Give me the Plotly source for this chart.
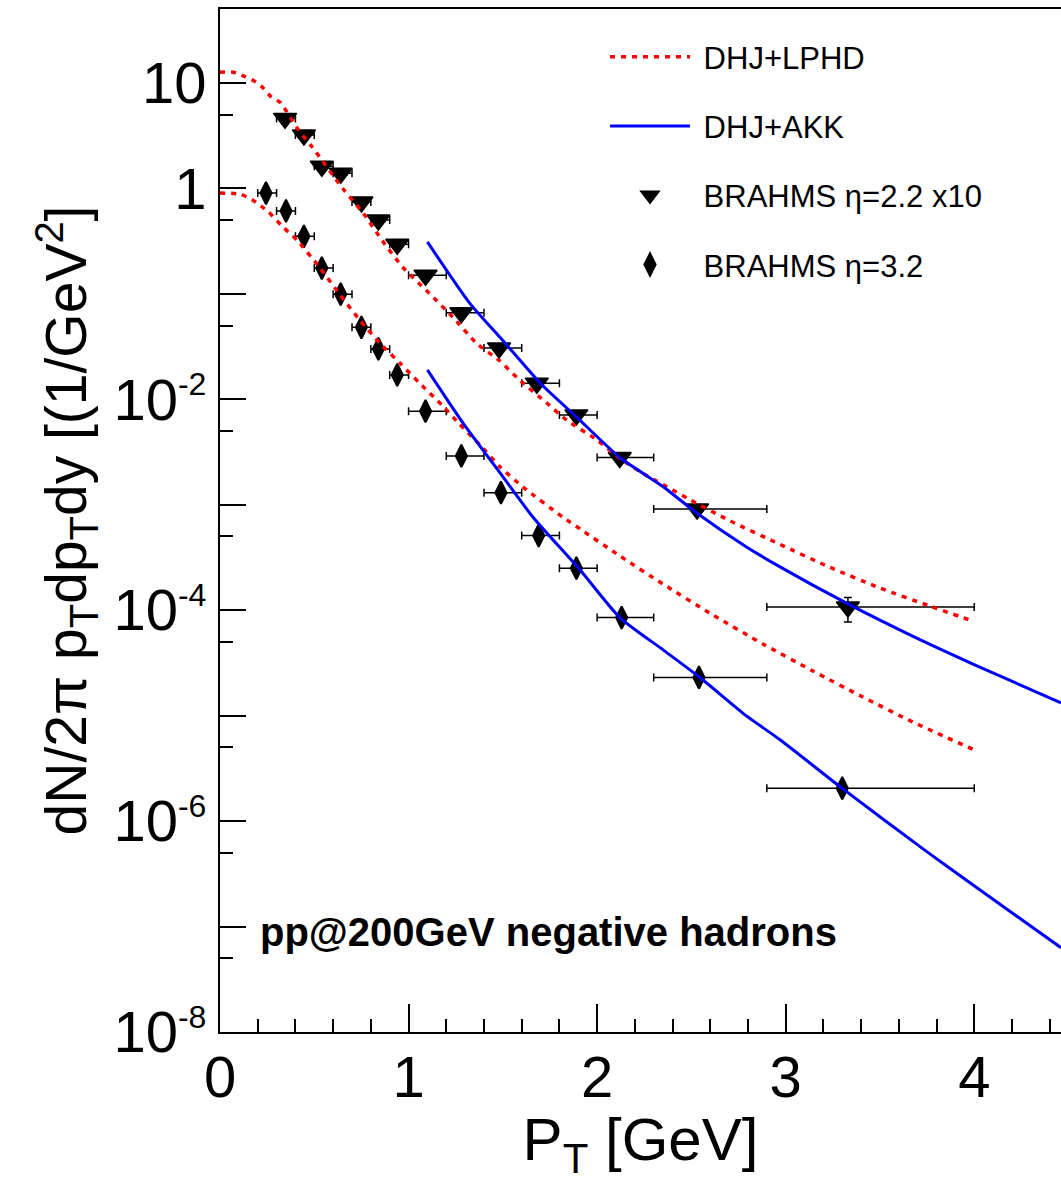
import plotly.graph_objects as go

# ---------------- data ----------------
# BRAHMS eta=2.2 (x10)
pt_eta22 = [0.345, 0.445, 0.54, 0.64, 0.75, 0.84, 0.94, 1.09, 1.28, 1.48, 1.68, 1.89, 2.12, 2.53, 3.33]
y_eta22 = [4.6, 3.2, 1.62, 1.39, 0.74, 0.50, 0.295, 0.15, 0.066, 0.0306, 0.0142, 0.0071, 0.0028, 9.1e-4, 1.07e-4]
lo_eta22 = [0.30, 0.40, 0.50, 0.60, 0.70, 0.80, 0.90, 1.0, 1.2, 1.4, 1.6, 1.8, 2.0, 2.3, 2.9]
hi_eta22 = [0.40, 0.50, 0.60, 0.70, 0.80, 0.90, 1.0, 1.2, 1.4, 1.6, 1.8, 2.0, 2.3, 2.9, 4.0]
ey_up_eta22 = [0, 0, 0, 0, 0, 0, 0, 0, 0, 0, 0, 0, 0, 0, 2.5e-5]
ey_dn_eta22 = [0, 0, 0, 0, 0, 0, 0, 0, 0, 0, 0, 0, 0, 0, 3.0e-5]

# BRAHMS eta=3.2
pt_eta32 = [0.244, 0.35, 0.445, 0.54, 0.64, 0.75, 0.84, 0.94, 1.09, 1.28, 1.49, 1.69, 1.89, 2.13, 2.54, 3.30]
y_eta32 = [0.90, 0.61, 0.35, 0.175, 0.099, 0.048, 0.030, 0.017, 0.0077, 0.0029, 0.0013, 5.1e-4, 2.5e-4, 8.5e-5, 2.3e-5, 2.05e-6]
lo_eta32 = [0.20, 0.30, 0.40, 0.50, 0.60, 0.70, 0.80, 0.90, 1.0, 1.2, 1.4, 1.6, 1.8, 2.0, 2.3, 2.9]
hi_eta32 = [0.30, 0.40, 0.50, 0.60, 0.70, 0.80, 0.90, 1.0, 1.2, 1.4, 1.6, 1.8, 2.0, 2.3, 2.9, 4.0]

# DHJ+LPHD curves
lphd_up_x = [0, 0.07, 0.13, 0.19, 0.23, 0.27, 0.32, 0.41, 0.49, 0.65, 0.76, 0.86, 0.97, 1.10, 1.235, 1.36,
             1.48, 1.59, 1.73, 1.84, 2.00, 2.12, 2.26, 2.40, 2.49, 2.70, 2.97, 3.23, 3.50, 3.76, 4.00]
lphd_up_y = [12.6, 12.6, 11.5, 10.2, 8.9, 7.4, 6.5, 3.7, 2.45, 1.0, 0.58, 0.32, 0.178, 0.105, 0.060, 0.034,
             0.0234, 0.0151, 0.0093, 0.0063, 0.0041, 0.00275, 0.0019, 0.00138, 0.00112, 7.1e-4, 4.2e-4,
             2.57e-4, 1.62e-4, 1.10e-4, 7.8e-5]
lphd_lo_x = [0, 0.106, 0.17, 0.255, 0.334, 0.41, 0.53, 0.636, 0.742, 0.848, 0.954, 1.06, 1.18, 1.27, 1.38,
             1.485, 1.607, 1.819, 1.909, 2.121, 2.349, 2.614, 2.879, 3.144, 3.409, 3.674, 4.003]
lphd_lo_y = [0.90, 0.88, 0.78, 0.60, 0.43, 0.32, 0.176, 0.098, 0.056, 0.034, 0.022, 0.0141, 0.0087, 0.0058,
             0.00367, 0.00228, 0.00147, 7.6e-4, 5.9e-4, 3.26e-4, 1.77e-4, 9.0e-5, 4.78e-5, 2.65e-5, 1.50e-5,
             8.7e-6, 4.7e-6]

# DHJ+AKK curves
akk_up_x = [1.10, 1.325, 1.50, 1.70, 1.89, 2.12, 2.35, 2.53, 2.79, 2.97, 3.32, 3.67, 3.99, 4.46]
akk_up_y = [0.31, 0.081, 0.036, 0.0141, 0.0068, 0.0028, 0.00148, 8.3e-4, 4.0e-4, 2.57e-4, 1.17e-4,
            5.7e-5, 3.1e-5, 1.32e-5]
akk_lo_x = [1.10, 1.29, 1.485, 1.66, 1.91, 2.12, 2.35, 2.545, 2.79, 2.97, 3.30, 3.75, 3.99, 4.46]
akk_lo_y = [0.019, 0.0059, 0.0020, 7.6e-4, 2.4e-4, 8.5e-5, 4.2e-5, 2.3e-5, 1.0e-5, 5.9e-6, 2.04e-6,
            5.1e-7, 2.5e-7, 6.3e-8]

x_tickvals = [0, 1, 2, 3, 4]
x_minor = [0.2, 0.4, 0.6, 0.8, 1.2, 1.4, 1.6, 1.8, 2.2, 2.4, 2.6, 2.8, 3.2, 3.4, 3.6, 3.8, 4.2, 4.4]
y_tickvals = [1e1, 1e0, 1e-1, 1e-2, 1e-3, 1e-4, 1e-5, 1e-6, 1e-7, 1e-8]
SUP = '<sup><span style="font-size:32px">%s</span></sup>'
y_ticktext = ["10", "1", "", "10" + SUP % "-2", "", "10" + SUP % "-4", "", "10" + SUP % "-6", "", "10" + SUP % "-8"]
y_minor = [5e1, 5e0, 5e-1, 5e-2, 5e-3, 5e-4, 5e-5, 5e-6, 5e-7, 5e-8]

FONT = "Liberation Sans, Arial, Helvetica, sans-serif"
NB = "\u00a0"

fig = go.Figure()

# data points
fig.add_trace(go.Scatter(
    x=pt_eta22, y=y_eta22, mode="markers", name=NB + "BRAHMS η=2.2 x10", legendrank=3, legendgroup="c",
    marker=dict(symbol="triangle-down", size=20, color="black", line=dict(color="black", width=1.5)),
    error_x=dict(type="data", symmetric=False,
                 array=[h - p for h, p in zip(hi_eta22, pt_eta22)],
                 arrayminus=[p - l for p, l in zip(pt_eta22, lo_eta22)],
                 color="black", thickness=1.5, width=4),
    error_y=dict(type="data", symmetric=False, array=ey_up_eta22, arrayminus=ey_dn_eta22,
                 color="black", thickness=1.5, width=4),
))
fig.add_trace(go.Scatter(
    x=pt_eta32, y=y_eta32, mode="markers", name=NB + "BRAHMS η=3.2", legendrank=4, legendgroup="d",
    marker=dict(symbol="diamond-tall", size=16, color="black", line=dict(color="black", width=2)),
    error_x=dict(type="data", symmetric=False,
                 array=[h - p for h, p in zip(hi_eta32, pt_eta32)],
                 arrayminus=[p - l for p, l in zip(pt_eta32, lo_eta32)],
                 color="black", thickness=1.5, width=4),
))

# theory curves (drawn on top of markers)
fig.add_trace(go.Scatter(
    x=lphd_up_x, y=lphd_up_y, mode="lines", name=NB + "DHJ+LPHD", legendrank=1, legendgroup="a",
    line=dict(color="#ff0000", width=3.5, dash="5px,6px", shape="spline", smoothing=0.6),
))
fig.add_trace(go.Scatter(
    x=lphd_lo_x, y=lphd_lo_y, mode="lines", name="DHJ+LPHD", showlegend=False, legendgroup="a",
    line=dict(color="#ff0000", width=3.5, dash="5px,6px", shape="spline", smoothing=0.6),
))
fig.add_trace(go.Scatter(
    x=akk_up_x, y=akk_up_y, mode="lines", name=NB + "DHJ+AKK", legendrank=2, legendgroup="b",
    line=dict(color="#0000ff", width=3, shape="spline", smoothing=0.6),
))
fig.add_trace(go.Scatter(
    x=akk_lo_x, y=akk_lo_y, mode="lines", name="DHJ+AKK", showlegend=False, legendgroup="b",
    line=dict(color="#0000ff", width=3, shape="spline", smoothing=0.6),
))

fig.add_annotation(
    text="<b>pp@200GeV negative hadrons</b>", xref="paper", yref="paper",
    x=(258 - 220) / 841, y=(1032 - 932) / 1023, xanchor="left", yanchor="middle",
    showarrow=False, font=dict(family=FONT, size=40, color="black"),
)

fig.update_layout(
    width=1061, height=1182,
    margin=dict(l=220, r=0, t=9, b=150),
    paper_bgcolor="white", plot_bgcolor="white",
    font=dict(family=FONT, color="black"),
    showlegend=True,
    legend=dict(x=(605 - 220) / 841, y=(1032 - 30) / 1023, xanchor="left", yanchor="top",
                bgcolor="rgba(0,0,0,0)", font=dict(family=FONT, size=31, color="black"),
                tracegroupgap=26, itemwidth=80, traceorder="grouped"),
    xaxis=dict(
        range=[0, 4.46], showgrid=False, zeroline=False,
        showline=True, linecolor="black", linewidth=2, mirror=True,
        ticks="inside", ticklen=28, tickwidth=2, tickcolor="black",
        tickvals=x_tickvals, ticktext=[str(v) for v in x_tickvals],
        tickfont=dict(family=FONT, size=58, color="black"), ticklabelstandoff=-7,
        minor=dict(tickvals=x_minor, ticks="inside", ticklen=13, tickwidth=2, tickcolor="black", showgrid=False),
        title=dict(text="P<sub>T</sub> [GeV]", font=dict(family=FONT, size=60, color="black"), standoff=18),
    ),
    yaxis=dict(
        type="log", range=[-8, 1.70], showgrid=False, zeroline=False,
        showline=True, linecolor="black", linewidth=2, mirror=False,
        ticks="inside", ticklen=26, tickwidth=2, tickcolor="black",
        tickvals=y_tickvals, ticktext=y_ticktext,
        tickfont=dict(family=FONT, size=58, color="black"),
        minor=dict(tickvals=y_minor, ticks="inside", ticklen=13, tickwidth=2, tickcolor="black", showgrid=False),
        title=dict(text="dN/2π p<sub>T</sub>dp<sub>T</sub>dy [(1/GeV<sup>2</sup>]",
                   font=dict(family=FONT, size=57, color="black"), standoff=8),
    ),
)

fig.write_html("out.html")
